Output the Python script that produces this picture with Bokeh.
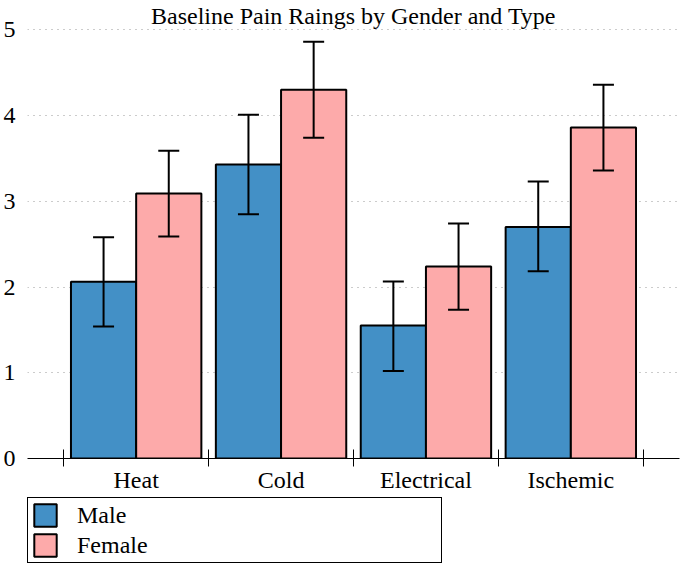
from bokeh.plotting import figure
from bokeh.layouts import column
from bokeh.models import (Range1d, FixedTicker, ColumnDataSource, Whisker, TeeHead,
                          Legend, LegendItem)
from bokeh.embed import file_html
from bokeh.resources import INLINE

categories = ["Heat", "Cold", "Electrical", "Ischemic"]
male_mean = [2.06, 3.43, 1.55, 2.70]
male_lower = [1.54, 2.85, 1.02, 2.185]
male_upper = [2.58, 4.01, 2.065, 3.23]
female_mean = [3.09, 4.30, 2.24, 3.86]
female_lower = [2.59, 3.74, 1.735, 3.36]
female_upper = [3.59, 4.86, 2.74, 4.36]
series_names = ["Male", "Female"]
y_ticks = [0, 1, 2, 3, 4, 5]

BLUE = "#4390c6"
PINK = "#fdaaaa"
FONT = "Liberation Serif"
BAR_W = 0.45

centers = [i + 0.5 for i in range(len(categories))]
male_x = [c - BAR_W / 2 for c in centers]
female_x = [c + BAR_W / 2 for c in centers]

src_m = ColumnDataSource(dict(x=male_x, top=male_mean, lo=male_lower, hi=male_upper))
src_f = ColumnDataSource(dict(x=female_x, top=female_mean, lo=female_lower, hi=female_upper))

p = figure(width=681, height=495, output_backend="svg", toolbar_location=None,
           x_range=Range1d(-0.25, len(categories) + 0.25), y_range=Range1d(0, 5.015),
           title="Baseline Pain Raings by Gender and Type",
           min_border_left=0, min_border_right=2, min_border_top=0, min_border_bottom=0)

p.title.text_font = FONT
p.title.text_font_style = "normal"
p.title.text_font_size = "24px"
p.title.text_color = "black"
p.title.align = "center"
p.title.standoff = 0
p.outline_line_color = None
p.background_fill_color = "white"
p.border_fill_color = "white"

rm = p.vbar(x="x", top="top", bottom=0, width=BAR_W, source=src_m,
            fill_color=BLUE, line_color="black", line_width=2)
rf = p.vbar(x="x", top="top", bottom=0, width=BAR_W, source=src_f,
            fill_color=PINK, line_color="black", line_width=2)

for src in (src_m, src_f):
    w = Whisker(base="x", lower="lo", upper="hi", source=src, level="annotation",
                line_color="black", line_width=2,
                upper_head=TeeHead(size=21, line_width=2, line_color="black"),
                lower_head=TeeHead(size=21, line_width=2, line_color="black"))
    p.add_layout(w)

# x axis: labels at centers, tick marks at boundaries (minor ticks)
p.xaxis.ticker = FixedTicker(ticks=centers, minor_ticks=list(range(len(categories) + 1)))
p.xaxis.major_label_overrides = {c: lab for c, lab in zip(centers, categories)}
p.xaxis.major_tick_in = 0
p.xaxis.major_tick_out = 0
p.xaxis.minor_tick_in = 9
p.xaxis.minor_tick_out = 8
p.xaxis.minor_tick_line_color = "black"
p.xaxis.axis_line_color = "black"
p.xaxis.axis_line_width = 1
p.xaxis.major_label_text_font = FONT
p.xaxis.major_label_text_font_size = "24px"
p.xaxis.major_label_text_color = "black"
p.xaxis.major_label_standoff = 0

# y axis
p.yaxis.ticker = FixedTicker(ticks=y_ticks)
p.yaxis.axis_line_color = None
p.yaxis.major_tick_line_color = None
p.yaxis.minor_tick_line_color = None
p.yaxis.major_tick_in = 0
p.yaxis.major_tick_out = 0
p.yaxis.major_label_text_font = FONT
p.yaxis.major_label_text_font_size = "24px"
p.yaxis.major_label_text_color = "black"
p.yaxis.major_label_standoff = 12

p.xgrid.grid_line_color = None
p.ygrid.ticker = FixedTicker(ticks=y_ticks)
p.ygrid.grid_line_color = "#999999"
p.ygrid.grid_line_dash = "1 5"
p.ygrid.grid_line_width = 1

# legend panel below the chart (its frame is aligned with the chart's frame)
lp = figure(width=681, height=69, output_backend="svg", toolbar_location=None,
            x_range=Range1d(0, 1), y_range=Range1d(0, 1),
            min_border_left=0, min_border_right=0, min_border_top=0, min_border_bottom=0)
lp.axis.visible = False
lp.grid.visible = False
lp.outline_line_color = None
# legend-only swatches, placed outside the visible range
lm = lp.vbar(x=[-10], top=[-10], width=0.1, fill_color=BLUE, line_color="black",
             line_width=2, border_radius=5)
lf = lp.vbar(x=[-10], top=[-10], width=0.1, fill_color=PINK, line_color="black",
             line_width=2, border_radius=5)

legend = Legend(items=[LegendItem(label=series_names[0], renderers=[lm]),
                       LegendItem(label=series_names[1], renderers=[lf])],
                location=(0, 1), orientation="vertical",
                glyph_width=28, glyph_height=28, label_standoff=18,
                label_width=361, label_height=28, spacing=2, padding=3, margin=0,
                label_text_font=FONT, label_text_font_size="24px",
                label_text_color="black",
                border_line_color="black", border_line_width=1.5, border_line_alpha=1.0,
                background_fill_alpha=1.0)
lp.add_layout(legend, "center")

layout = column(p, lp, spacing=0)
open("out.html", "w").write(file_html(layout, INLINE))
